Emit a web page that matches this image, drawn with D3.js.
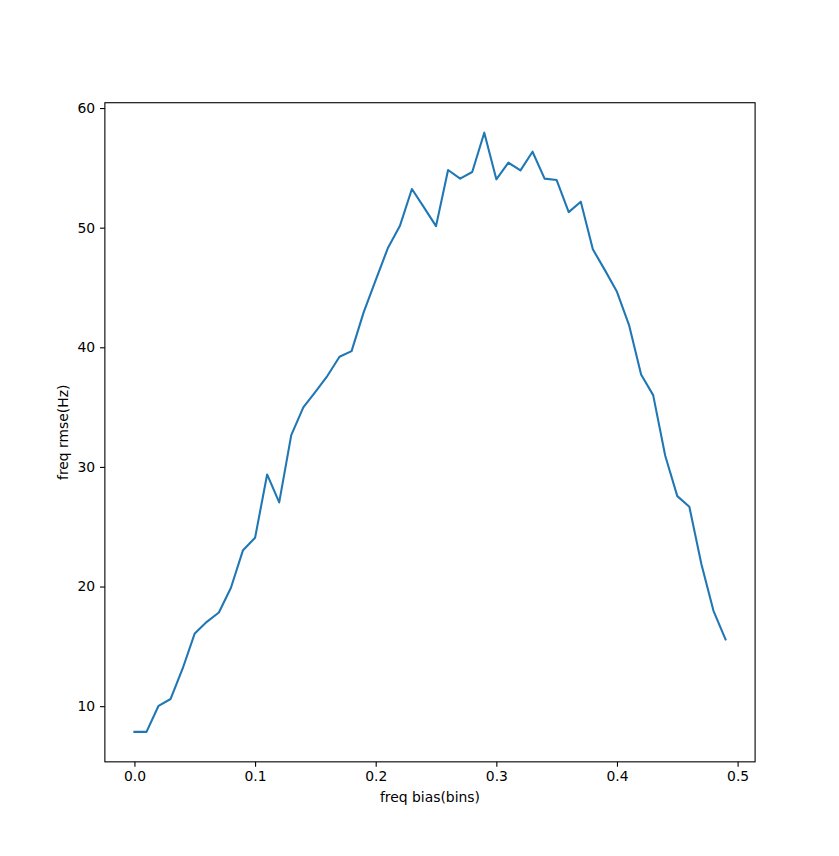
<!DOCTYPE html>
<html>
<head>
<meta charset="utf-8">
<script src="https://cdn.jsdelivr.net/npm/d3@7"></script>
<style>
  body { margin: 0; background: #fff; }
  text { font-family: "DejaVu Sans", sans-serif; }
</style>
</head>
<body>
<div id="chart"></div>
<script>
// freq bias (bins) vs freq rmse (Hz)
const biasBins = d3.range(50).map(i => +(i * 0.01).toFixed(2));
const rmseHz = [
  7.85, 7.85, 10.03, 10.6, 13.15, 16.08, 17.05, 17.83, 19.9, 23.04,
  24.07, 29.37, 27.03, 32.66, 34.97, 36.28, 37.62, 39.21, 39.68, 42.92,
  45.62, 48.27, 50.13, 53.23, 51.7, 50.13, 54.82, 54.1, 54.65, 57.94,
  54.04, 55.43, 54.79, 56.35, 54.1, 53.98, 51.3, 52.17, 48.19, 46.45,
  44.64, 41.86, 37.73, 36.0, 30.93, 27.56, 26.67, 21.87, 17.97, 15.58
];
const xTicks = [0.0, 0.1, 0.2, 0.3, 0.4, 0.5];
const yTicks = [10, 20, 30, 40, 50, 60];

const width = 839, height = 856;
const plotLeft = 0.125 * width, plotRight = 0.9 * width;
const plotTop = (1 - 0.88) * height, plotBottom = (1 - 0.11) * height;

// matplotlib-like 5% margins
function padded(ext) {
  const m = (ext[1] - ext[0]) * 0.05;
  return [ext[0] - m, ext[1] + m];
}

const x = d3.scaleLinear().domain(padded(d3.extent(biasBins))).range([plotLeft, plotRight]);
const y = d3.scaleLinear().domain(padded(d3.extent(rmseHz))).range([plotBottom, plotTop]);

const svg = d3.select("#chart").append("svg")
  .attr("width", width)
  .attr("height", height);

const tickLen = 4.86, fs = 13.9;

const xAxis = svg.append("g")
  .attr("transform", `translate(0,${plotBottom})`)
  .call(d3.axisBottom(x).tickValues(xTicks).tickFormat(d3.format(".1f"))
    .tickSize(tickLen).tickPadding(4.86));
const yAxis = svg.append("g")
  .attr("transform", `translate(${plotLeft},0)`)
  .call(d3.axisLeft(y).tickValues(yTicks).tickFormat(d3.format("d"))
    .tickSize(tickLen).tickPadding(4.86));

[xAxis, yAxis].forEach(g => {
  g.select(".domain").remove();
  g.selectAll(".tick line").attr("stroke", "#000").attr("stroke-width", 1.1);
  g.selectAll(".tick text")
    .attr("fill", "#000")
    .style("font-family", "'DejaVu Sans', sans-serif")
    .style("font-size", fs + "px");
});

// axes frame
svg.append("rect")
  .attr("x", plotLeft).attr("y", plotTop)
  .attr("width", plotRight - plotLeft).attr("height", plotBottom - plotTop)
  .attr("fill", "none")
  .attr("stroke", "#000")
  .attr("stroke-width", 1.1);

const line = d3.line()
  .x((d, i) => x(biasBins[i]))
  .y(d => y(d));

svg.append("path")
  .datum(rmseHz)
  .attr("d", line)
  .attr("fill", "none")
  .attr("stroke", "#1f77b4")
  .attr("stroke-width", 2.08)
  .attr("stroke-linejoin", "round")
  .attr("stroke-linecap", "square");

svg.append("text")
  .attr("x", (plotLeft + plotRight) / 2)
  .attr("y", 802)
  .attr("text-anchor", "middle")
  .style("font-size", fs + "px")
  .text("freq bias(bins)");

svg.append("text")
  .attr("transform", `translate(68,${(plotTop + plotBottom) / 2}) rotate(-90)`)
  .attr("text-anchor", "middle")
  .style("font-size", fs + "px")
  .text("freq rmse(Hz)");
</script>
</body>
</html>
